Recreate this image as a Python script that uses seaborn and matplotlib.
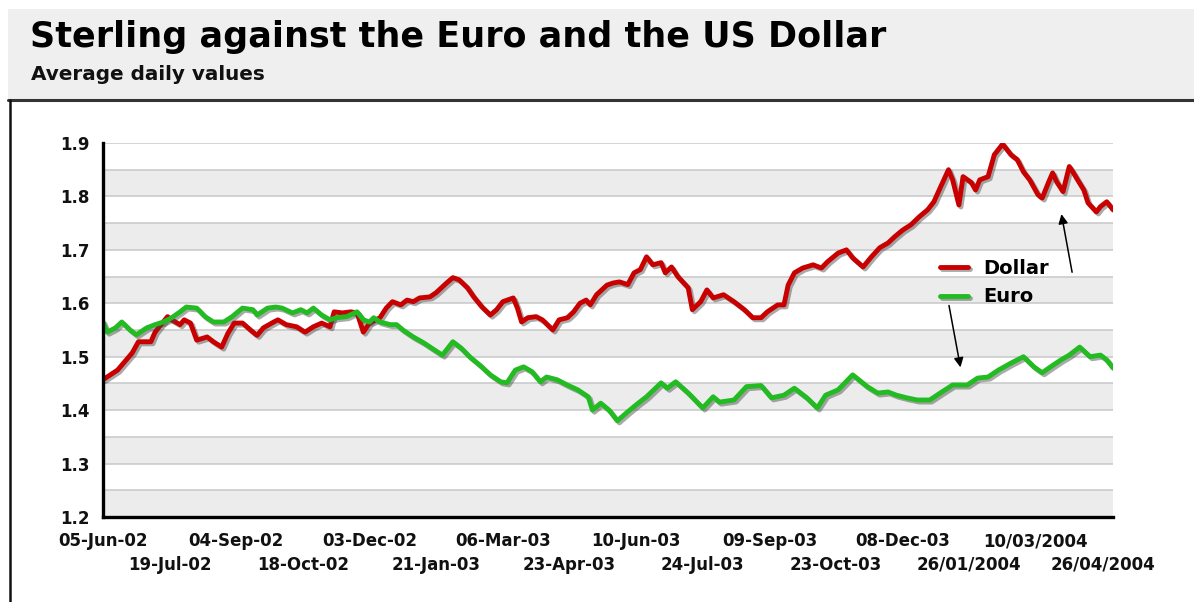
import numpy as np
import seaborn as sns
import matplotlib.pyplot as plt
import matplotlib.patheffects as pe
from matplotlib.patches import Rectangle
from matplotlib.lines import Line2D

# --- Data ---
# x = business days since 05-Jun-2002
title = "Sterling against the Euro and the US Dollar"
subtitle = "Average daily values"

x_labels = ["05-Jun-02", "19-Jul-02", "04-Sep-02", "18-Oct-02", "03-Dec-02",
            "21-Jan-03", "06-Mar-03", "23-Apr-03", "10-Jun-03", "24-Jul-03",
            "09-Sep-03", "23-Oct-03", "08-Dec-03", "26/01/2004", "10/03/2004",
            "26/04/2004"]
label_day = [0, 32, 64, 96, 128, 160, 192, 224, 256, 288, 320, 352, 384, 416, 448, 480]
y_ticks = [1.2, 1.3, 1.4, 1.5, 1.6, 1.7, 1.8, 1.9]

dollar_day = [0, 7, 14, 17, 23, 25, 27, 31, 33, 37,
              39, 42, 45, 50, 53, 57, 60, 63, 67, 72,
              74, 77, 82, 84, 88, 93, 97, 101, 105, 109,
              111, 115, 119, 122, 125, 128, 133, 136, 139, 143,
              146, 149, 152, 157, 160, 165, 168, 171, 175, 178,
              182, 186, 189, 192, 197, 199, 201, 204, 208, 211,
              216, 219, 223, 226, 229, 232, 234, 237, 242, 245,
              248, 252, 255, 258, 261, 264, 268, 270, 273, 276,
              281, 283, 287, 290, 293, 298, 303, 308, 312, 316,
              319, 324, 327, 329, 332, 336, 341, 345, 348, 353,
              357, 360, 365, 369, 373, 377, 380, 384, 388, 392,
              396, 399, 402, 406, 408, 411, 413, 417, 419, 421,
              425, 428, 432, 436, 439, 442, 445, 449, 451, 454,
              456, 458, 461, 464, 466, 468, 471, 473, 477, 479,
              482, 485]
dollar_val = [1.457, 1.475, 1.507, 1.528, 1.528, 1.546, 1.556, 1.575, 1.569, 1.560,
              1.569, 1.563, 1.531, 1.537, 1.528, 1.518, 1.544, 1.563, 1.563, 1.546,
              1.540, 1.554, 1.565, 1.569, 1.560, 1.556, 1.546, 1.556, 1.563, 1.556,
              1.584, 1.582, 1.584, 1.582, 1.546, 1.563, 1.573, 1.591, 1.603, 1.597,
              1.606, 1.603, 1.610, 1.612, 1.620, 1.638, 1.648, 1.644, 1.629, 1.612,
              1.593, 1.578, 1.588, 1.603, 1.610, 1.591, 1.565, 1.573, 1.575, 1.569,
              1.550, 1.569, 1.573, 1.584, 1.600, 1.606, 1.597, 1.616, 1.634, 1.638,
              1.640, 1.635, 1.657, 1.663, 1.687, 1.672, 1.676, 1.657, 1.668, 1.650,
              1.629, 1.588, 1.603, 1.625, 1.610, 1.616, 1.603, 1.588, 1.573, 1.573,
              1.584, 1.597, 1.597, 1.634, 1.657, 1.666, 1.672, 1.666, 1.678, 1.694,
              1.700, 1.685, 1.668, 1.687, 1.704, 1.713, 1.724, 1.737, 1.747, 1.762,
              1.775, 1.790, 1.816, 1.850, 1.831, 1.784, 1.837, 1.826, 1.812, 1.831,
              1.837, 1.878, 1.898, 1.878, 1.869, 1.846, 1.831, 1.803, 1.797, 1.826,
              1.844, 1.827, 1.809, 1.856, 1.844, 1.831, 1.812, 1.788, 1.771, 1.781,
              1.790, 1.775]

euro_day = [0, 2, 6, 9, 13, 16, 21, 25, 29, 33,
            37, 40, 45, 49, 53, 58, 62, 67, 72, 74,
            79, 83, 86, 91, 95, 98, 101, 105, 109, 112,
            117, 122, 125, 128, 130, 133, 138, 141, 144, 149,
            154, 159, 163, 168, 172, 176, 181, 186, 191, 194,
            198, 202, 206, 210, 213, 218, 223, 228, 233, 235,
            239, 243, 247, 252, 257, 261, 268, 271, 275, 281,
            288, 293, 296, 303, 309, 316, 321, 327, 332, 338,
            343, 347, 353, 360, 367, 372, 377, 381, 386, 391,
            397, 402, 408, 415, 420, 425, 430, 436, 442, 447,
            451, 455, 460, 464, 469, 474, 479, 482, 485]
euro_val = [1.565, 1.546, 1.554, 1.565, 1.550, 1.541, 1.554, 1.560, 1.565, 1.573,
            1.584, 1.593, 1.591, 1.575, 1.565, 1.565, 1.575, 1.591, 1.588, 1.578,
            1.591, 1.593, 1.591, 1.582, 1.588, 1.582, 1.591, 1.578, 1.569, 1.573,
            1.575, 1.584, 1.569, 1.565, 1.573, 1.565, 1.560, 1.560, 1.550, 1.537,
            1.526, 1.513, 1.503, 1.528, 1.516, 1.500, 1.484, 1.466, 1.453, 1.451,
            1.475, 1.481, 1.472, 1.453, 1.462, 1.457, 1.447, 1.438, 1.425, 1.400,
            1.413, 1.400, 1.380, 1.397, 1.413, 1.425, 1.451, 1.441, 1.453, 1.432,
            1.404, 1.425, 1.415, 1.419, 1.444, 1.446, 1.423, 1.428, 1.441, 1.423,
            1.404, 1.428, 1.438, 1.466, 1.444, 1.432, 1.434, 1.428, 1.423, 1.419,
            1.419, 1.432, 1.447, 1.447, 1.460, 1.462, 1.475, 1.488, 1.500, 1.481,
            1.470, 1.481, 1.494, 1.503, 1.518, 1.500, 1.503, 1.494, 1.479]

W, H = 1194, 602


def fx(px):
    return px / W


def fy(py):
    return 1 - py / H


sns.set_style("white")
plt.rcParams["font.family"] = ["DejaVu Sans"]
plt.rcParams["font.weight"] = "bold"
plt.rcParams["text.color"] = "black"

fig = plt.figure(figsize=(W / 100, H / 100), dpi=100)

# --- header band ---
fig.add_artist(Rectangle((fx(8), fy(100)), 1 - fx(8), fy(9) - fy(100),
                         facecolor="#efefef", edgecolor="none",
                         transform=fig.transFigure, zorder=0))
fig.add_artist(Line2D([fx(8), 1], [fy(100), fy(100)], color="#333333", lw=2.2,
                      transform=fig.transFigure))
fig.add_artist(Line2D([fx(10), fx(10)], [0, fy(100)], color="#111111", lw=1.8,
                      transform=fig.transFigure))
fig.text(fx(30), fy(47), title, fontsize=25.2, fontweight="bold", va="baseline",
         color="black")
fig.text(fx(31), fy(80), subtitle, fontsize=14.4, fontweight="bold",
         va="baseline", color="#111111")

# --- plot area ---
ax = fig.add_axes([fx(103), fy(517), fx(1113) - fx(103), fy(143) - fy(517)])
ax.set_xlim(0, 485)
ax.set_ylim(1.2, 1.9)

for lo in y_ticks[:-1]:
    ax.axhspan(lo, lo + 0.05, color="#ececec", lw=0, zorder=0)
for y in np.arange(1.2, 1.91, 0.05):
    ax.axhline(y, color="#c8c8c8", lw=1.1, zorder=0.5)

shadow = [pe.SimpleLineShadow(offset=(1.5, -1.5), shadow_color="#444444", alpha=0.45),
          pe.Normal()]
sns.lineplot(x=dollar_day, y=dollar_val, color="#c80000", lw=3.5, ax=ax,
             label="Dollar", path_effects=shadow)
sns.lineplot(x=euro_day, y=euro_val, color="#22bb22", lw=3.5, ax=ax,
             label="Euro", path_effects=shadow)
ax.set_xlabel("")
ax.set_ylabel("")

ax.legend(loc="center left", bbox_to_anchor=(0.829, 0.627), frameon=False,
          prop={"weight": "bold", "size": 14}, handlelength=1.4,
          handletextpad=0.8, labelspacing=0.5, borderpad=0, borderaxespad=0)

# arrows pointing from the legend to the lines
arrow = dict(arrowstyle="-|>", color="black", lw=1.1, mutation_scale=14)
ax.annotate("", xy=(412, 1.475), xytext=(406, 1.601), arrowprops=arrow)
ax.annotate("", xy=(460, 1.772), xytext=(465.6, 1.653), arrowprops=arrow)

# --- ticks: a mark every 16 days, labels every 32 in two staggered rows ---
tick_pos = np.arange(0, 481, 16)
tick_lab = [x_labels[label_day.index(p)] if p in label_day else "" for p in tick_pos]
ax.set_xticks(tick_pos)
ax.set_xticklabels(tick_lab, fontsize=12, fontweight="bold")
ax.set_yticks(y_ticks)
ax.set_yticklabels([f"{v:.1f}" for v in y_ticks], fontsize=12, fontweight="bold")
ax.tick_params(axis="both", direction="out", length=7.5, width=2.2,
               color="black", labelcolor="#111111")
ax.tick_params(axis="y", pad=2)
ax.tick_params(axis="x", pad=3.5)
for p, t in zip(tick_pos, ax.xaxis.get_major_ticks()):
    if p in label_day and label_day.index(p) % 2 == 1:
        t.set_pad(20.5)

for s in ["top", "right"]:
    ax.spines[s].set_visible(False)
for s in ["left", "bottom"]:
    ax.spines[s].set_linewidth(2.4)
    ax.spines[s].set_color("black")

fig.savefig("out.png", dpi=100)
plt.close(fig)
